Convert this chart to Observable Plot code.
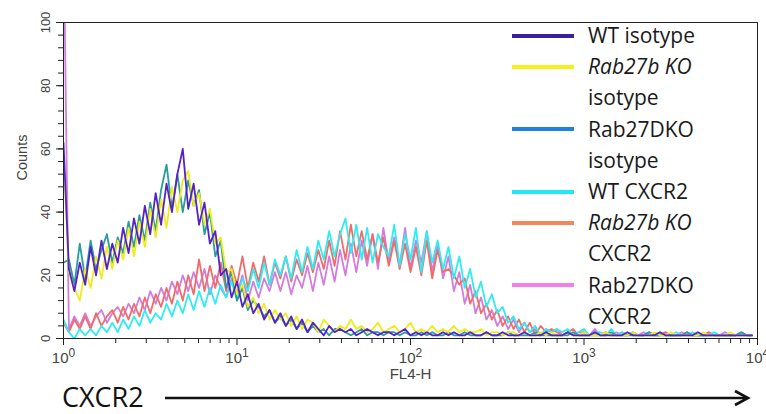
<!DOCTYPE html>
<html><head><meta charset="utf-8">
<script src="https://cdn.jsdelivr.net/npm/d3@7"></script>
<script src="https://cdn.jsdelivr.net/npm/@observablehq/plot@0.6"></script>
<style>
html,body{margin:0;padding:0;background:#fff;}
#wrap{position:relative;width:766px;height:414px;overflow:hidden;background:#fff;}
#chart{position:absolute;left:0;top:0;}
#legend{position:absolute;left:512px;top:20px;font-family:"Open Sans",sans-serif;font-size:21px;color:#1a1a1a;}
.row{height:31.2px;line-height:31.2px;white-space:nowrap;position:relative;padding-left:76px;}
.sw{position:absolute;left:0;top:13.6px;width:62px;height:4px;}
#bottom{position:absolute;left:0;top:0;pointer-events:none;}
</style></head><body>
<div id="wrap"><div id="chart"></div><div id="legend"></div><svg id="bottom" width="766" height="414"></svg></div>
<script>
// ---- data (counts per log-spaced channel, 32 channels per decade, 10^0..10^4) ----
const binsPerDecade = 32;
const seriesNames = ["WT isotype", "Rab27b KO isotype", "Rab27DKO isotype", "WT CXCR2", "Rab27b KO CXCR2", "Rab27DKO CXCR2"];

const wtIsotype = [62,
22,15,24,17,29,20,31,22,30,24,
35,27,38,30,42,33,46,36,49,40,
52,60,41,49,36,43,30,34,20,22,
13,18,10,14,8,11,6,9,5,8,
4,7,3,6,2,5,3,1,4,2,
3,2,3,1,2,3,2,1,2,2,
1,2,3,1,2,1,2,1,1,2,
1,2,1,1,2,1,1,2,1,1,
2,1,1,1,2,1,1,1,2,1,
1,1,2,1,1,1,1,2,1,1,
1,1,1,2,1,1,1,1,1,2,
1,1,1,1,1,1,2,1,1,1,
1,1,1,1,1,1,1];

const koIsotype = [58,
21,16,12,22,16,26,19,29,22,31,
25,35,26,37,29,41,32,44,35,48,
40,50,53,42,46,36,41,30,32,21,
22,14,17,10,13,8,11,6,9,6,
8,4,7,3,6,5,2,6,4,2,
4,3,6,3,4,2,3,5,2,3,
4,2,3,5,2,3,2,4,2,3,
2,4,2,3,2,2,3,1,2,2,
1,2,2,1,2,1,1,2,1,2,
1,1,2,1,1,2,1,1,1,2,
1,1,1,1,2,1,1,1,2,1,
1,2,1,1,1,1,1,2,1,1,
1,1,2,1,1,1,1];

const dkoIsotype = [24,
25,17,30,19,31,22,28,33,24,32,
27,37,29,39,31,43,34,47,55,41,
52,40,50,42,47,33,40,26,31,16,
21,12,16,9,12,10,7,9,5,7,
4,6,3,5,2,4,2,3,1,3,
3,2,1,2,3,1,2,2,1,2,
2,1,2,1,1,2,1,2,1,1,
2,1,1,2,1,1,1,2,1,1,
1,2,1,1,1,1,2,1,1,1,
1,1,1,2,1,1,1,1,1,1,
2,1,1,1,1,1,1,2,1,1,
1,1,1,1,2,1,1,1,1,1,
1,1,1,1,2,1,1];

const wtCXCR2 = [6,
2,0,3,1,3,1,4,2,5,2,
6,3,7,4,9,5,8,6,11,7,
12,8,14,9,15,10,16,11,17,13,
18,12,19,15,22,16,24,17,25,20,
26,19,28,21,29,22,31,25,34,26,
33,38,27,36,25,35,24,33,29,26,
36,23,33,25,35,21,34,24,31,22,
29,19,26,16,22,13,18,10,14,8,
10,5,7,3,5,2,4,1,3,2,
3,2,3,1,2,3,1,2,2,1,
3,1,2,1,2,1,1,2,1,2,
1,1,2,1,1,2,1,1,1,2,
1,1,1,1,2,1,1];

const koCXCR2 = [5,
2,6,3,7,3,8,4,7,9,5,
10,6,11,7,13,8,14,10,16,11,
18,12,20,14,25,15,23,16,24,15,
23,17,26,16,24,18,26,17,24,19,
26,18,25,20,27,21,28,22,31,23,
34,25,36,26,34,25,33,24,32,23,
31,22,30,21,29,20,31,19,28,21,
22,20,17,19,11,15,8,11,6,9,
4,7,3,6,2,5,1,4,2,3,
2,1,2,3,1,2,1,2,1,2,
1,1,2,1,2,1,1,2,1,1,
2,1,1,1,2,1,1,1,2,1,
1,1,1,1,2,1,1];

const dkoCXCR2 = [130,
3,7,4,8,4,7,9,5,8,10,
7,11,8,13,9,15,11,16,12,18,
14,20,15,21,16,22,14,20,16,13,
19,14,20,12,18,13,19,15,21,15,
21,14,20,16,23,15,24,17,26,18,
28,20,30,21,31,23,33,22,35,24,
32,23,35,22,31,24,34,21,30,19,
26,15,21,11,17,8,13,6,9,4,
7,3,6,2,5,2,3,1,3,2,
3,1,2,1,2,2,1,3,1,2,
1,2,1,1,2,1,2,1,1,1,
2,1,1,2,1,1,1,1,2,1,
1,2,1,1,1,1,1];

const plotColors = ["#5522c8", "#eeec1c", "#2a9c9c", "#30ecf2", "#ef6c6a", "#d27ce0"];
const legendColors = ["#3b1fa0", "#f3f01a", "#1f80e0", "#22e8f2", "#f5855c", "#f27ef0"];
const legendLines = [["WT isotype"], ["Rab27b KO", "isotype"], ["Rab27DKO", "isotype"], ["WT CXCR2"], ["Rab27b KO", "CXCR2"], ["Rab27DKO", "CXCR2"]];
const legendItalic = [false, true, false, false, true, false];

const xMajorTicks = [1, 10, 100, 1000, 10000];
const yTicks = [0, 20, 40, 60, 80, 100];
const yMinorTicks = d3.range(0, 101, 4);
const xMinorTicks = [1, 10, 100, 1000].flatMap(b => d3.range(2, 10).map(m => b * m));

const allSeries = [wtIsotype, koIsotype, dkoIsotype, wtCXCR2, koCXCR2, dkoCXCR2];
const tables = allSeries.map((arr, s) => arr.map((c, i) => ({series: seriesNames[s], x: Math.pow(10, i / binsPerDecade), count: c})));
const drawOrder = [5, 4, 3, 2, 1, 0];

const chart = Plot.plot({
  width: 766, height: 390,
  marginLeft: 63, marginRight: 9, marginTop: 22, marginBottom: 52,
  style: {fontFamily: "'Liberation Sans', Arial, sans-serif", background: "transparent", color: "#444"},
  x: {type: "log", domain: [1, 1e4], axis: null},
  y: {domain: [0, 100], axis: null},
  marks: [
    Plot.axisY({ticks: yMinorTicks, tickSize: 5, tickFormat: () => "", stroke: "#222", label: null}),
    Plot.axisY({ticks: yTicks, tickSize: 7, tickRotate: -90, tickPadding: 7, fontSize: 13, stroke: "#222", label: null}),
    Plot.axisX({ticks: xMinorTicks, tickSize: 5, tickFormat: () => "", stroke: "#222", label: null}),
    Plot.axisX({ticks: xMajorTicks, tickSize: 7, tickPadding: 7, fontSize: 15, stroke: "#222", label: null,
      tickFormat: d => "10^" + Math.round(Math.log10(d))}),
    ...drawOrder.map(s => Plot.line(tables[s], {x: "x", y: "count", stroke: plotColors[s], strokeWidth: 1.8, curve: "linear", clip: true})),
    Plot.frame({stroke: "#222"}),
    Plot.text(["Counts"], {text: d => d, frameAnchor: "left", dx: -41, rotate: -90, fontSize: 14.5, fill: "#444"}),
    Plot.text(["FL4-H"], {text: d => d, frameAnchor: "bottom", dy: 40, fontSize: 15, fill: "#444"})
  ]
});
document.getElementById("chart").appendChild(chart);

// superscript exponents on x tick labels
d3.select(chart).selectAll("text").each(function() {
  const m = /^10\^(\d)$/.exec(this.textContent);
  if (!m) return;
  const t = d3.select(this);
  t.text("");
  t.append("tspan").text("10");
  t.append("tspan").attr("dy", "-0.5em").attr("font-size", "0.8em").text(m[1]);
});

// legend
const legend = d3.select("#legend");
legendLines.forEach((lines, k) => {
  lines.forEach((line, j) => {
    const row = legend.append("div").attr("class", "row");
    if (j === 0) row.append("span").attr("class", "sw").style("background", legendColors[k]);
    row.append("span").style("font-style", (j === 0 && legendItalic[k]) ? "italic" : "normal").text(line);
  });
});

// bottom label with arrow
const bottom = d3.select("#bottom");
bottom.append("text").attr("x", 62).attr("y", 407).attr("font-family", "'Open Sans', sans-serif").attr("font-size", 27).attr("fill", "#111").text("CXCR2");
bottom.append("line").attr("x1", 165).attr("x2", 746).attr("y1", 398).attr("y2", 398).attr("stroke", "#111").attr("stroke-width", 2.6);
bottom.append("polyline").attr("points", "735,391 748,398 735,405").attr("fill", "none").attr("stroke", "#111").attr("stroke-width", 2.6);
</script>
</body></html>
